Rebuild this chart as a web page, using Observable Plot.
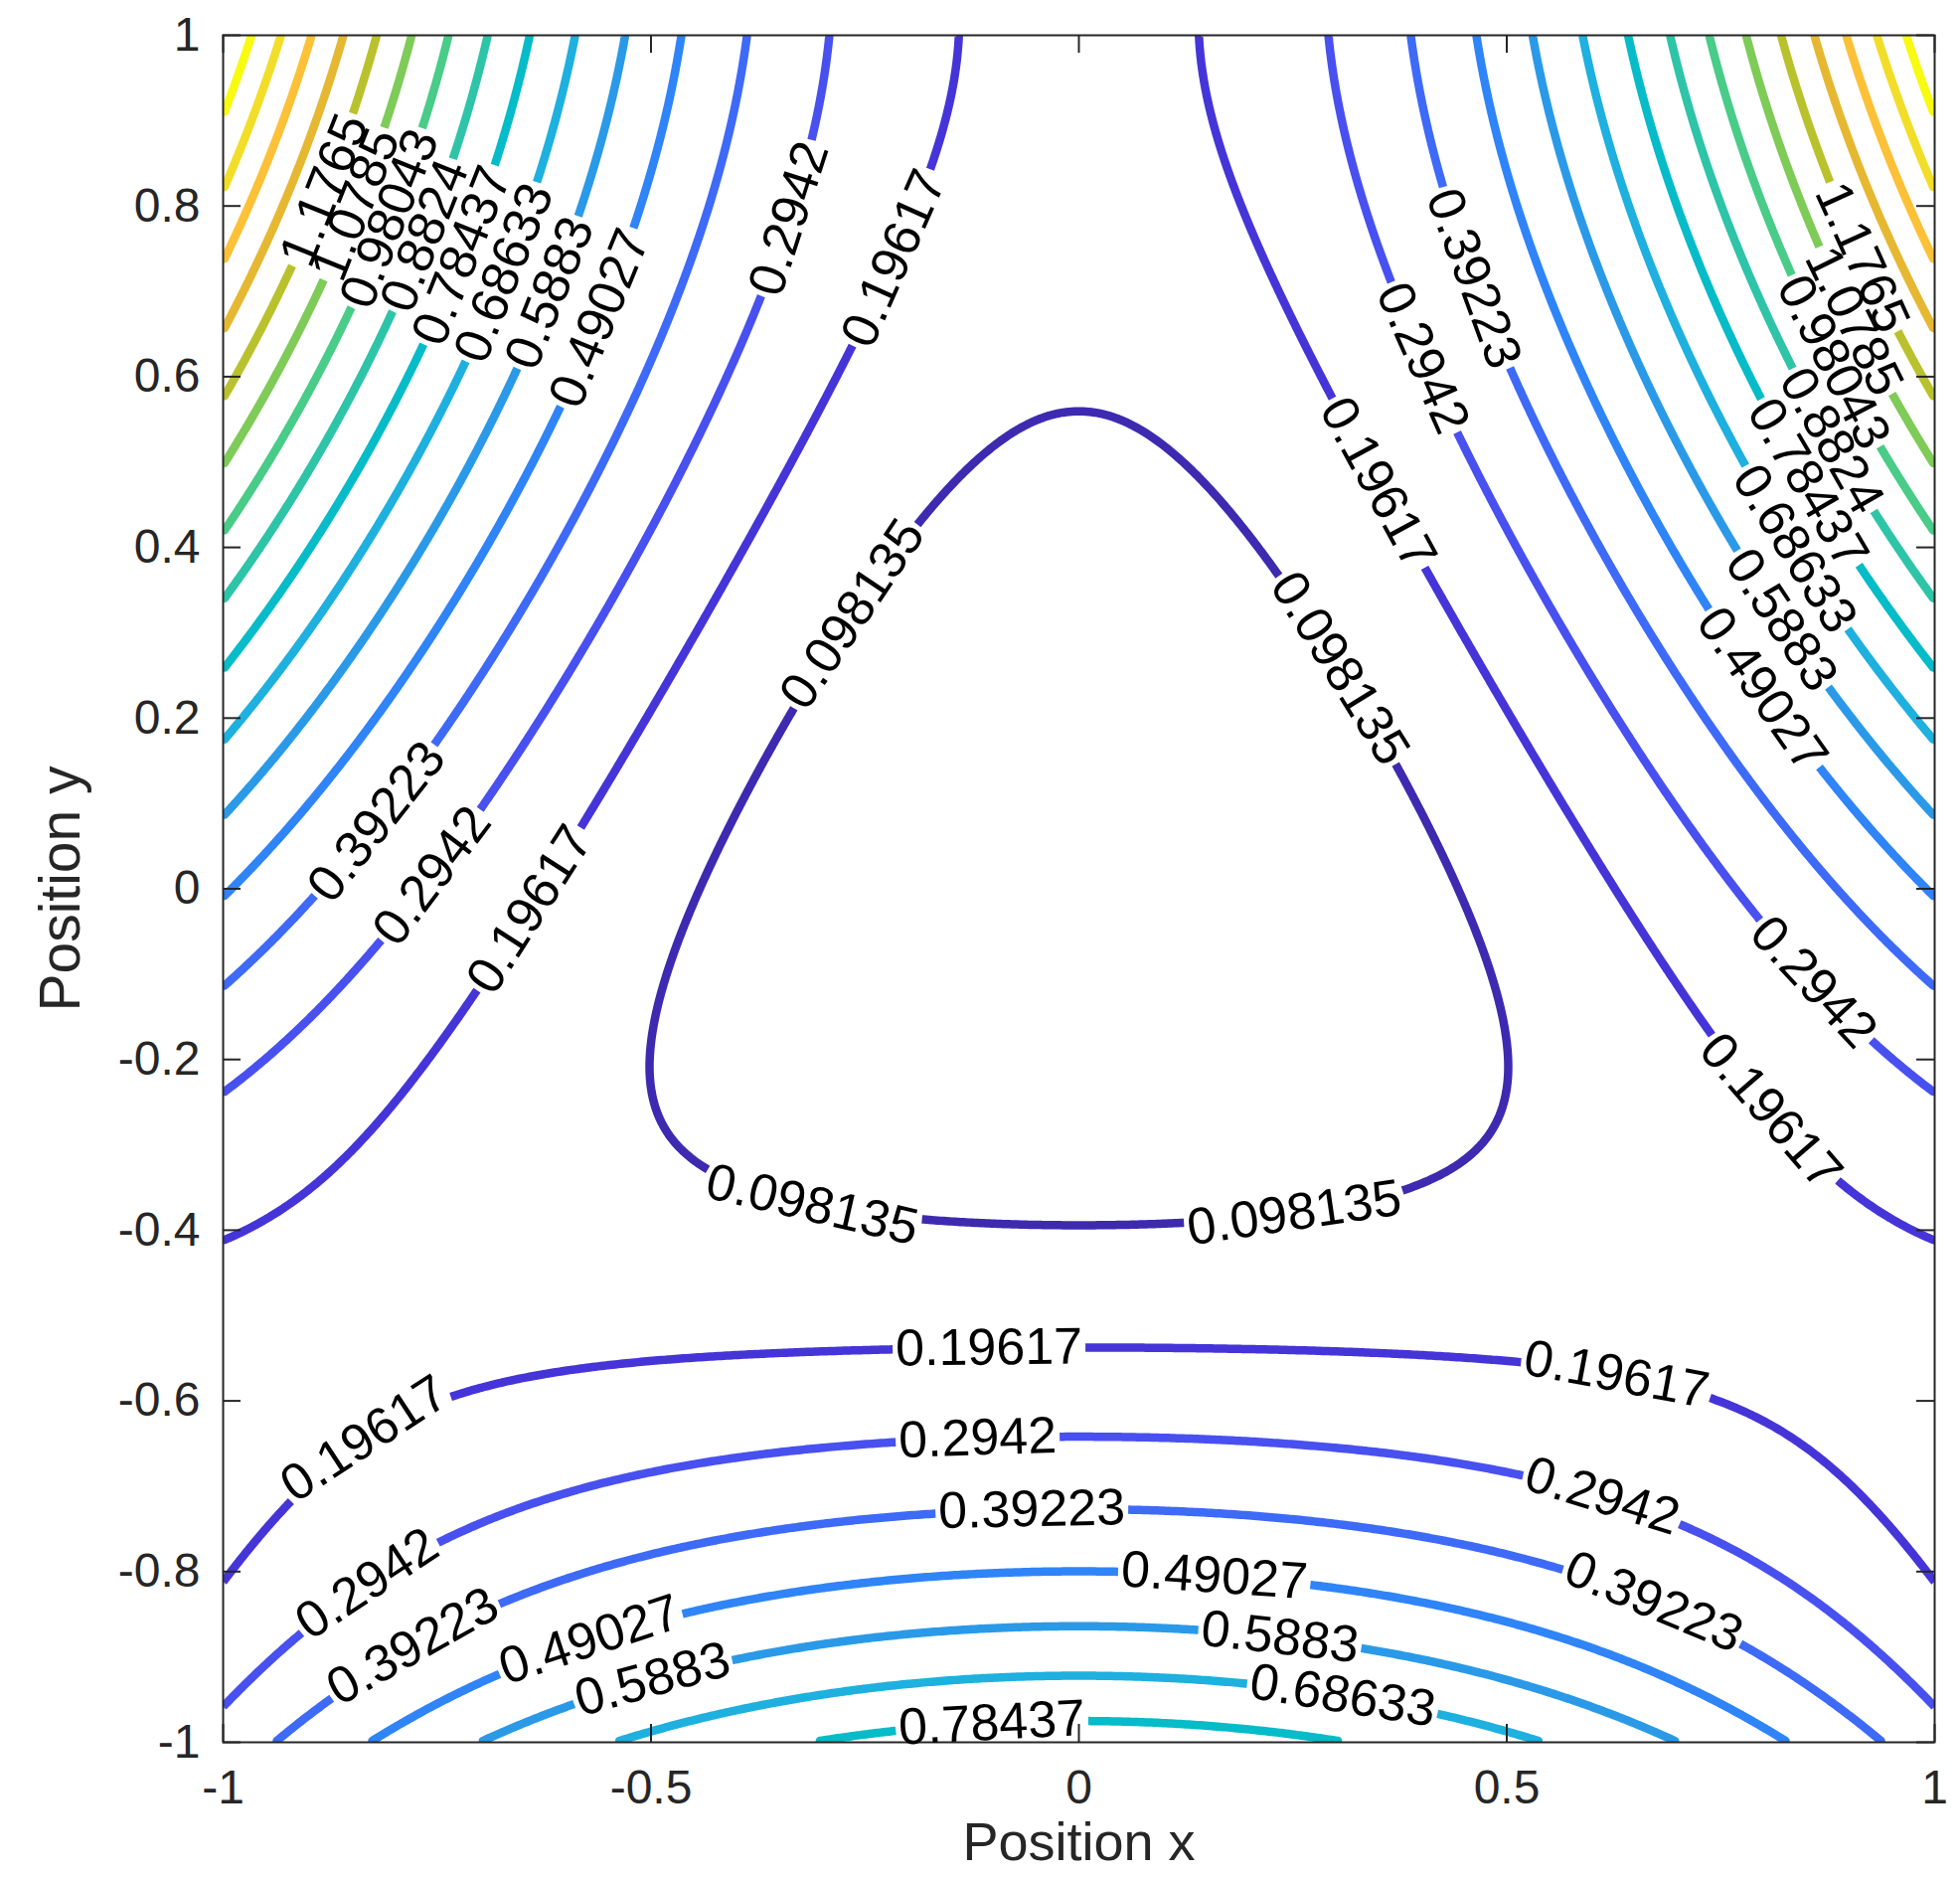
<!DOCTYPE html>
<html>
<head>
<meta charset="utf-8">
<script src="https://cdn.jsdelivr.net/npm/d3@7"></script>
<script src="https://cdn.jsdelivr.net/npm/@observablehq/plot@0.6"></script>
<style>
  html, body { margin: 0; padding: 0; background: #fff; }
</style>
</head>
<body>
<div id="chart"></div>
<script>
// Hénon–Heiles potential V(x, y) = (x² + y²)/2 + x²y − y³/3, contoured on [-1, 1]².
const levels = [0.098135, 0.19617, 0.2942, 0.39223, 0.49027, 0.5883, 0.68633, 0.78437,
                0.8824, 0.98043, 1.0785, 1.1765, 1.2745, 1.3726, 1.4706, 1.5686];
const levelColors = ["#3e2ab0", "#4535d8", "#4850f0", "#3e6af8", "#2f84f8", "#2a9ae8",
                     "#1eb0de", "#05bcc8", "#2ec4a8", "#48cc88", "#7ecb58", "#b9c22c",
                     "#e6b832", "#fcc136", "#f2de28", "#f8fa10"];
const xTicks = [-1, -0.5, 0, 0.5, 1];
const yTicks = [-1, -0.8, -0.6, -0.4, -0.2, 0, 0.2, 0.4, 0.6, 0.8, 1];

// Inline contour labels: level and the point (in data units) near which it sits.
const labelLevel = [
  1.1765, 1.0785, 0.98043, 0.8824, 0.78437, 0.68633, 0.5883, 0.49027,
  0.2942, 0.19617,
  0.39223, 0.2942, 0.19617,
  0.098135, 0.098135, 0.098135, 0.098135,
  0.39223, 0.2942, 0.19617,
  0.2942, 0.19617,
  1.1765, 1.0785, 0.98043, 0.8824, 0.78437, 0.68633, 0.5883, 0.49027,
  0.19617, 0.19617, 0.19617,
  0.2942, 0.2942, 0.2942,
  0.39223, 0.39223, 0.39223,
  0.49027, 0.49027, 0.5883, 0.5883, 0.68633, 0.78437
];
const labelX = [
  -0.886, -0.841, -0.794, -0.749, -0.703, -0.657, -0.612, -0.566,
  -0.343, -0.223,
  0.464, 0.405, 0.357,
  -0.267, 0.306, -0.31, 0.252,
  -0.825, -0.756, -0.646,
  0.861, 0.812,
  0.917, 0.904, 0.885, 0.880, 0.859, 0.836, 0.811, 0.799,
  -0.106, 0.629, -0.833,
  -0.118, 0.614, -0.833,
  -0.055, 0.671, -0.778,
  0.160, -0.573, 0.234, -0.497, 0.31, -0.103
];
const labelY = [
  0.822, 0.801, 0.779, 0.758, 0.736, 0.715, 0.694, 0.672,
  0.785, 0.741,
  0.716, 0.624, 0.477,
  0.323, 0.257, -0.363, -0.370,
  0.082, 0.015, -0.021,
  -0.106, -0.256,
  0.740, 0.664, 0.618, 0.526, 0.478, 0.396, 0.308, 0.235,
  -0.534, -0.566, -0.647,
  -0.640, -0.710, -0.813,
  -0.728, -0.838, -0.886,
  -0.805, -0.875, -0.871, -0.927, -0.945, -0.979
];

const V = (x, y) => 0.5 * (x * x + y * y) + x * x * y - (y * y * y) / 3;

// Layout
const width = 1972, height = 1888;
const marginLeft = 224, marginRight = 26, marginTop = 35, marginBottom = 136;
const innerW = width - marginLeft - marginRight;
const innerH = height - marginTop - marginBottom;
const font = "'Liberation Sans', Arial, Helvetica, sans-serif";
const labelFontSize = 52;
const tickFontSize = 48;
const ink = "#262626";

// Pixel mapping used only to measure arc lengths and angles for label placement
const xs = d3.scaleLinear([-1, 1], [marginLeft, marginLeft + innerW]);
const ys = d3.scaleLinear([-1, 1], [marginTop + innerH, marginTop]);

// Sample the potential on a grid (values at cell centres)
const n = 600;
const grid = new Float64Array(n * n);
for (let j = 0; j < n; ++j) {
  const y = -1 + (j + 0.5) * 2 / n;
  for (let i = 0; i < n; ++i) {
    const x = -1 + (i + 0.5) * 2 / n;
    grid[j * n + i] = V(x, y);
  }
}
const contours = d3.contours().size([n, n]).thresholds(levels)(grid);

const toData = ([cx, cy]) => [-1 + cx * 2 / n, -1 + cy * 2 / n];
const eps = 1e-9;
const onEdge = ([cx, cy]) => cx <= eps || cx >= n - eps || cy <= eps || cy >= n - eps;

// Turn closed polygon rings into open isolines by removing runs along the grid border
function isolines(ring) {
  const m = ring.length - 1;
  const pts = ring.slice(0, m);
  const edge = pts.map(onEdge);
  let start = -1;
  for (let i = 0; i < m; ++i) if (edge[i] && edge[(i + 1) % m]) { start = (i + 1) % m; break; }
  if (start < 0) return [{closed: true, pts: ring.map(toData)}];
  const runs = [];
  let cur = [];
  for (let k = 0; k < m; ++k) {
    const i = (start + k) % m, nx = (i + 1) % m;
    if (edge[i] && edge[nx]) { if (cur.length > 1) runs.push(cur); cur = []; continue; }
    if (!cur.length) cur.push(pts[i]);
    cur.push(pts[nx]);
  }
  if (cur.length > 1) runs.push(cur);
  return runs.map(r => ({closed: false, pts: r.map(toData)}));
}

let pieces = [];
for (const c of contours) {
  for (const polygon of c.coordinates) {
    for (const ring of polygon) {
      for (const p of isolines(ring)) pieces.push({level: c.value, ...p});
    }
  }
}

// Text width measurement for label gaps
const ctx = document.createElement("canvas").getContext("2d");
ctx.font = `${labelFontSize}px ${font}`;
const textWidth = s => ctx.measureText(s).width;

function arcLengths(pts) {
  const s = [0];
  for (let i = 1; i < pts.length; ++i) {
    s.push(s[i - 1] + Math.hypot(xs(pts[i][0]) - xs(pts[i - 1][0]), ys(pts[i][1]) - ys(pts[i - 1][1])));
  }
  return s;
}
function pointAt(pts, s, t) {
  if (t <= 0) return pts[0];
  if (t >= s[s.length - 1]) return pts[pts.length - 1];
  let i = d3.bisectRight(s, t) - 1;
  i = Math.max(0, Math.min(pts.length - 2, i));
  const f = (t - s[i]) / ((s[i + 1] - s[i]) || 1);
  return [pts[i][0] + f * (pts[i + 1][0] - pts[i][0]), pts[i][1] + f * (pts[i + 1][1] - pts[i][1])];
}
function subLine(pts, s, a, b) {
  if (b - a < 1) return null;
  const out = [pointAt(pts, s, a)];
  for (let i = 0; i < pts.length; ++i) if (s[i] > a && s[i] < b) out.push(pts[i]);
  out.push(pointAt(pts, s, b));
  return out;
}

const labels = [];
for (let k = 0; k < labelLevel.length; ++k) {
  const lv = labelLevel[k];
  const ax = xs(labelX[k]), ay = ys(labelY[k]);
  let best = null;
  pieces.forEach((p, pi) => {
    if (p.level !== lv) return;
    p.pts.forEach((q, qi) => {
      const d = (xs(q[0]) - ax) ** 2 + (ys(q[1]) - ay) ** 2;
      if (!best || d < best.d) best = {d, pi, qi};
    });
  });
  if (!best) continue;
  const piece = pieces[best.pi];
  let pts = piece.pts, qi = best.qi;
  if (piece.closed) {
    pts = pts.slice(qi, pts.length - 1).concat(pts.slice(0, qi + 1));
    qi = 0;
  }
  const s = arcLengths(pts);
  const total = s[s.length - 1];
  const text = String(lv);
  const w = textWidth(text);
  const half = w / 2 + 3;
  let p0, p1, keep;
  const center = pts[qi];
  if (piece.closed) {
    p0 = pointAt(pts, s, total - w / 2);
    p1 = pointAt(pts, s, w / 2);
    keep = [subLine(pts, s, half, total - half)];
  } else {
    const s0 = s[qi];
    p0 = pointAt(pts, s, s0 - w / 2);
    p1 = pointAt(pts, s, s0 + w / 2);
    keep = [subLine(pts, s, 0, s0 - half), subLine(pts, s, s0 + half, total)];
  }
  let angle = Math.atan2(ys(p1[1]) - ys(p0[1]), xs(p1[0]) - xs(p0[0])) * 180 / Math.PI;
  if (angle > 90) angle -= 180;
  if (angle <= -90) angle += 180;
  labels.push({x: center[0], y: center[1], text, rotate: angle});
  const replacement = keep.filter(Boolean).map(p => ({level: lv, closed: false, pts: p}));
  pieces.splice(best.pi, 1, ...replacement);
}

// Flatten isolines into rows for Plot.line
const lineRows = [];
pieces.forEach((p, id) => {
  for (const [x, y] of p.pts) lineRows.push({x, y, id, level: p.level});
});

const tickLen = 18;

const chart = Plot.plot({
  width, height, marginLeft, marginRight, marginTop, marginBottom,
  style: {fontFamily: font, color: ink, background: "#fff"},
  x: {domain: [-1, 1]},
  y: {domain: [-1, 1]},
  color: {type: "ordinal", domain: levels, range: levelColors},
  marks: [
    Plot.line(lineRows, {x: "x", y: "y", z: "id", stroke: "level", strokeWidth: 8.5,
      strokeLinecap: "butt", strokeLinejoin: "round", clip: true}),
    Plot.frame({stroke: ink, strokeWidth: 2}),
    Plot.tickX(xTicks, {x: d => d, stroke: ink, strokeWidth: 2, insetTop: innerH - tickLen}),
    Plot.tickX(xTicks, {x: d => d, stroke: ink, strokeWidth: 2, insetBottom: innerH - tickLen}),
    Plot.tickY(yTicks, {y: d => d, stroke: ink, strokeWidth: 2, insetRight: innerW - tickLen}),
    Plot.tickY(yTicks, {y: d => d, stroke: ink, strokeWidth: 2, insetLeft: innerW - tickLen}),
    Plot.axisX({ticks: xTicks, tickSize: 0, tickPadding: 27, fontSize: tickFontSize,
      tickFormat: d => String(d), label: null}),
    Plot.axisY({ticks: yTicks, tickSize: 0, tickPadding: 23, fontSize: tickFontSize,
      tickFormat: d => String(d), label: null}),
    Plot.text(labels, {x: "x", y: "y", text: "text", rotate: "rotate",
      fontSize: labelFontSize, fill: "#000", textAnchor: "middle", lineAnchor: "middle"}),
    Plot.text(["Position x"], {frameAnchor: "bottom", dy: 101, fontSize: 54, fill: ink,
      lineAnchor: "middle", textAnchor: "middle"}),
    Plot.text(["Position y"], {frameAnchor: "left", dx: -163, rotate: -90, fontSize: 57, fill: ink,
      lineAnchor: "middle", textAnchor: "middle"})
  ]
});
document.getElementById("chart").appendChild(chart);
</script>
</body>
</html>
